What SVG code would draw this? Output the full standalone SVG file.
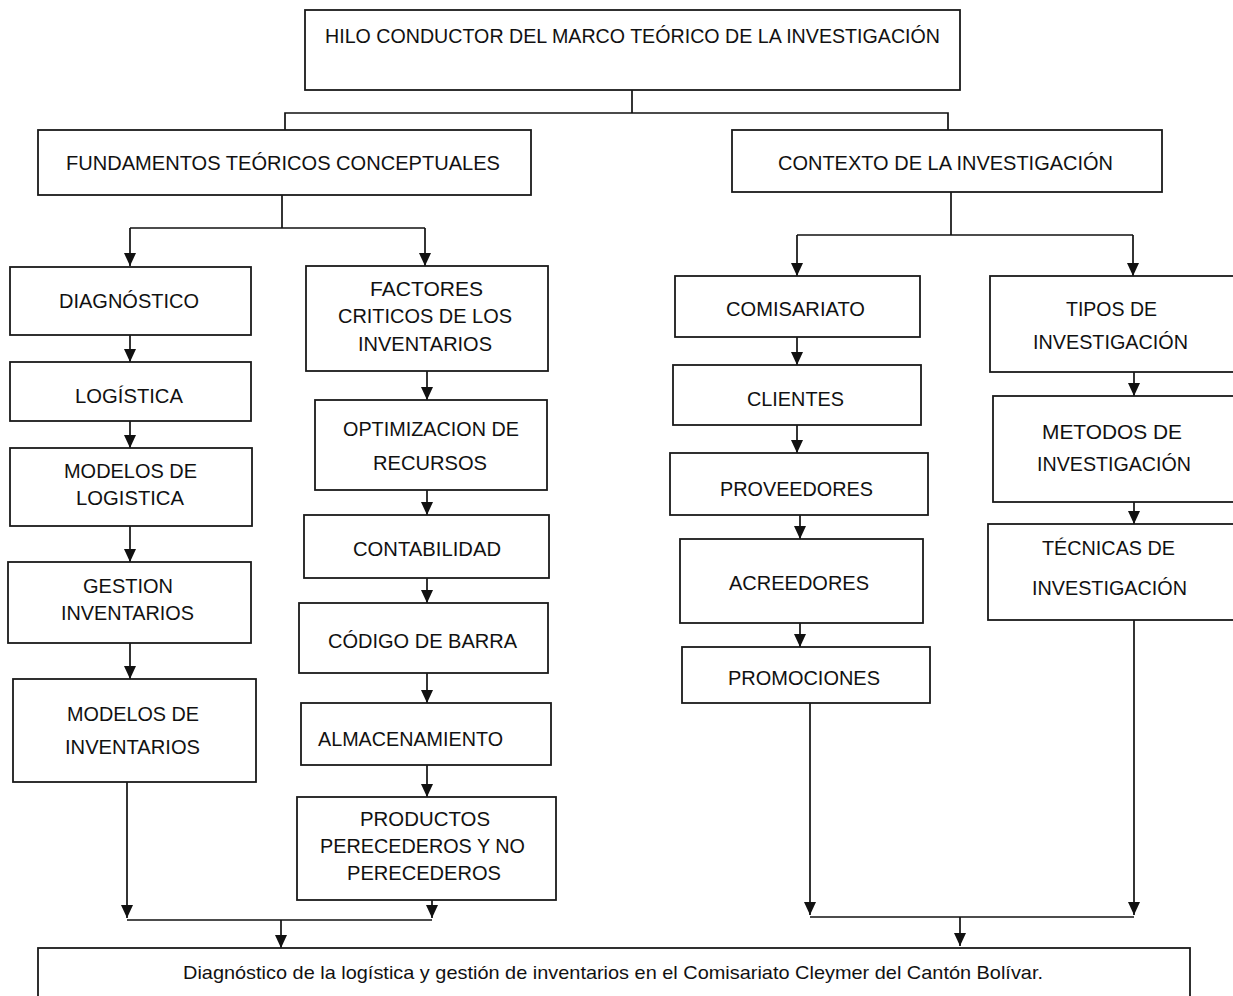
<svg xmlns="http://www.w3.org/2000/svg" width="1233" height="996" viewBox="0 0 1233 996">
  <style>
    .box { fill: #ffffff; stroke: #1a1a1a; stroke-width: 1.8; }
    .lbl { font-family: "Liberation Sans Narrow", "Liberation Sans", Arial, sans-serif; font-size: 21px; fill: #111111; }
    .sm { font-size: 19px; }
    .wire { fill: none; stroke: #111111; stroke-width: 1.7; }
    .arr { fill: none; stroke: #111111; stroke-width: 1.7; marker-end: url(#head); }
  </style>
  <defs>
    <marker id="head" viewBox="0 0 13 12" refX="13" refY="6" markerWidth="13" markerHeight="12" markerUnits="userSpaceOnUse" orient="auto">
      <path d="M0,0 L13,6 L0,12 z" fill="#111111"/>
    </marker>
  </defs>
  <rect width="1233" height="996" fill="#ffffff"/>

  <!-- connectors -->
  <g id="connectors">
    <path class="wire" d="M632,90 V113"/>
    <path class="wire" d="M285,130 V113 H948 V130"/>
    <path class="wire" d="M282,195 V228"/>
    <path class="wire" d="M130,228 H425"/>
    <path class="arr" d="M130,228 V266"/>
    <path class="arr" d="M425,228 V266"/>
    <path class="wire" d="M951,192 V235"/>
    <path class="wire" d="M797,235 H1133"/>
    <path class="arr" d="M797,235 V276"/>
    <path class="arr" d="M1133,235 V276"/>

    <path class="arr" d="M130,335 V362"/>
    <path class="arr" d="M130,421 V448"/>
    <path class="arr" d="M130,526 V562"/>
    <path class="arr" d="M130,643 V679"/>
    <path class="arr" d="M127,782 V918"/>

    <path class="arr" d="M427,371 V400"/>
    <path class="arr" d="M427,490 V515"/>
    <path class="arr" d="M427,578 V603"/>
    <path class="arr" d="M427,673 V703"/>
    <path class="arr" d="M427,765 V797"/>
    <path class="arr" d="M432,900 V918"/>

    <path class="wire" d="M127,920 H432"/>
    <path class="arr" d="M281,920 V948"/>

    <path class="arr" d="M797,337 V365"/>
    <path class="arr" d="M797,425 V453"/>
    <path class="arr" d="M800,515 V539"/>
    <path class="arr" d="M800,623 V647"/>
    <path class="arr" d="M810,703 V915"/>

    <path class="arr" d="M1134,372 V396"/>
    <path class="arr" d="M1134,502 V524"/>
    <path class="arr" d="M1134,620 V915"/>

    <path class="wire" d="M810,917 H1134"/>
    <path class="arr" d="M960,917 V946"/>
  </g>

  <!-- heading -->
  <g id="n-hilo">
    <rect class="box" x="305" y="10" width="655" height="80"/>
    <text class="lbl" x="325" y="43" textLength="615" lengthAdjust="spacingAndGlyphs">HILO CONDUCTOR DEL MARCO TEÓRICO DE LA INVESTIGACIÓN</text>
  </g>

  <g id="n-fundamentos">
    <rect class="box" x="38" y="130" width="493" height="65"/>
    <text class="lbl" x="66" y="170" textLength="434" lengthAdjust="spacingAndGlyphs">FUNDAMENTOS TEÓRICOS CONCEPTUALES</text>
  </g>

  <g id="n-contexto">
    <rect class="box" x="732" y="130" width="430" height="62"/>
    <text class="lbl" x="778" y="170" textLength="335" lengthAdjust="spacingAndGlyphs">CONTEXTO DE LA INVESTIGACIÓN</text>
  </g>

  <!-- left column -->
  <g id="n-diagnostico">
    <rect class="box" x="10" y="267" width="241" height="68"/>
    <text class="lbl" x="59" y="308" textLength="140" lengthAdjust="spacingAndGlyphs">DIAGNÓSTICO</text>
  </g>
  <g id="n-logistica">
    <rect class="box" x="10" y="362" width="241" height="59"/>
    <text class="lbl" x="75" y="403" textLength="108" lengthAdjust="spacingAndGlyphs">LOGÍSTICA</text>
  </g>
  <g id="n-modelos-logistica">
    <rect class="box" x="10" y="448" width="242" height="78"/>
    <text class="lbl" x="64" y="478" textLength="133" lengthAdjust="spacingAndGlyphs">MODELOS DE</text>
    <text class="lbl" x="76" y="505" textLength="108" lengthAdjust="spacingAndGlyphs">LOGISTICA</text>
  </g>
  <g id="n-gestion">
    <rect class="box" x="8" y="562" width="243" height="81"/>
    <text class="lbl" x="83" y="593" textLength="90" lengthAdjust="spacingAndGlyphs">GESTION</text>
    <text class="lbl" x="61" y="620" textLength="133" lengthAdjust="spacingAndGlyphs">INVENTARIOS</text>
  </g>
  <g id="n-modelos-inventarios">
    <rect class="box" x="13" y="679" width="243" height="103"/>
    <text class="lbl" x="67" y="721" textLength="132" lengthAdjust="spacingAndGlyphs">MODELOS DE</text>
    <text class="lbl" x="65" y="754" textLength="135" lengthAdjust="spacingAndGlyphs">INVENTARIOS</text>
  </g>

  <!-- middle column -->
  <g id="n-factores">
    <rect class="box" x="306" y="266" width="242" height="105"/>
    <text class="lbl" x="370" y="296" textLength="113" lengthAdjust="spacingAndGlyphs">FACTORES</text>
    <text class="lbl" x="338" y="323" textLength="174" lengthAdjust="spacingAndGlyphs">CRITICOS DE LOS</text>
    <text class="lbl" x="358" y="351" textLength="134" lengthAdjust="spacingAndGlyphs">INVENTARIOS</text>
  </g>
  <g id="n-optimizacion">
    <rect class="box" x="315" y="400" width="232" height="90"/>
    <text class="lbl" x="343" y="436" textLength="176" lengthAdjust="spacingAndGlyphs">OPTIMIZACION DE</text>
    <text class="lbl" x="373" y="470" textLength="114" lengthAdjust="spacingAndGlyphs">RECURSOS</text>
  </g>
  <g id="n-contabilidad">
    <rect class="box" x="304" y="515" width="245" height="63"/>
    <text class="lbl" x="353" y="556" textLength="148" lengthAdjust="spacingAndGlyphs">CONTABILIDAD</text>
  </g>
  <g id="n-codigo">
    <rect class="box" x="299" y="603" width="249" height="70"/>
    <text class="lbl" x="328" y="648" textLength="189" lengthAdjust="spacingAndGlyphs">CÓDIGO DE BARRA</text>
  </g>
  <g id="n-almacenamiento">
    <rect class="box" x="301" y="703" width="250" height="62"/>
    <text class="lbl" x="318" y="746" textLength="185" lengthAdjust="spacingAndGlyphs">ALMACENAMIENTO</text>
  </g>
  <g id="n-productos">
    <rect class="box" x="297" y="797" width="259" height="103"/>
    <text class="lbl" x="360" y="826" textLength="130" lengthAdjust="spacingAndGlyphs">PRODUCTOS</text>
    <text class="lbl" x="320" y="853" textLength="205" lengthAdjust="spacingAndGlyphs">PERECEDEROS Y NO</text>
    <text class="lbl" x="347" y="880" textLength="154" lengthAdjust="spacingAndGlyphs">PERECEDEROS</text>
  </g>

  <!-- context column -->
  <g id="n-comisariato">
    <rect class="box" x="675" y="276" width="245" height="61"/>
    <text class="lbl" x="726" y="316" textLength="139" lengthAdjust="spacingAndGlyphs">COMISARIATO</text>
  </g>
  <g id="n-clientes">
    <rect class="box" x="673" y="365" width="248" height="60"/>
    <text class="lbl" x="747" y="406" textLength="97" lengthAdjust="spacingAndGlyphs">CLIENTES</text>
  </g>
  <g id="n-proveedores">
    <rect class="box" x="670" y="453" width="258" height="62"/>
    <text class="lbl" x="720" y="496" textLength="153" lengthAdjust="spacingAndGlyphs">PROVEEDORES</text>
  </g>
  <g id="n-acreedores">
    <rect class="box" x="680" y="539" width="243" height="84"/>
    <text class="lbl" x="729" y="590" textLength="140" lengthAdjust="spacingAndGlyphs">ACREEDORES</text>
  </g>
  <g id="n-promociones">
    <rect class="box" x="682" y="647" width="248" height="56"/>
    <text class="lbl" x="728" y="685" textLength="152" lengthAdjust="spacingAndGlyphs">PROMOCIONES</text>
  </g>

  <!-- research column -->
  <g id="n-tipos">
    <rect class="box" x="990" y="276" width="260" height="96"/>
    <text class="lbl" x="1066" y="316" textLength="91" lengthAdjust="spacingAndGlyphs">TIPOS DE</text>
    <text class="lbl" x="1033" y="349" textLength="155" lengthAdjust="spacingAndGlyphs">INVESTIGACIÓN</text>
  </g>
  <g id="n-metodos">
    <rect class="box" x="993" y="396" width="260" height="106"/>
    <text class="lbl" x="1042" y="439" textLength="140" lengthAdjust="spacingAndGlyphs">METODOS DE</text>
    <text class="lbl" x="1037" y="471" textLength="154" lengthAdjust="spacingAndGlyphs">INVESTIGACIÓN</text>
  </g>
  <g id="n-tecnicas">
    <rect class="box" x="988" y="524" width="265" height="96"/>
    <text class="lbl" x="1042" y="555" textLength="133" lengthAdjust="spacingAndGlyphs">TÉCNICAS DE</text>
    <text class="lbl" x="1032" y="595" textLength="155" lengthAdjust="spacingAndGlyphs">INVESTIGACIÓN</text>
  </g>

  <!-- conclusion -->
  <g id="n-conclusion">
    <rect class="box" x="38" y="948" width="1152" height="60"/>
    <text class="lbl sm" x="183" y="979" textLength="860" lengthAdjust="spacingAndGlyphs">Diagnóstico de la logística y gestión de inventarios en el Comisariato Cleymer del Cantón Bolívar.</text>
  </g>
</svg>
